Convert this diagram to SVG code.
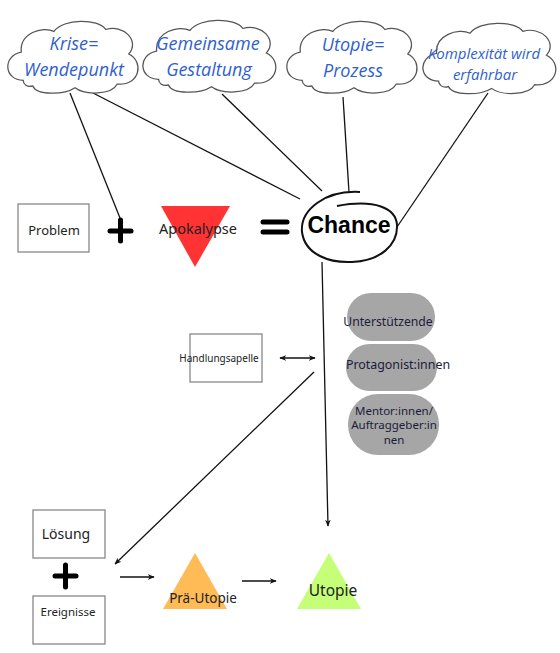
<svg xmlns="http://www.w3.org/2000/svg" width="560" height="653" viewBox="0 0 560 653">
<style>
.cloud{fill:#fff;stroke:#555;stroke-width:1.3}
.ct{font-family:"Open Sans",sans-serif;font-style:italic;fill:#2f5fcf;text-anchor:middle}
.box{fill:#fff;stroke:#888;stroke-width:1.3}
.t{font-family:"Noto Sans",sans-serif;fill:#222;text-anchor:middle}
.pill{fill:#a6a6a6}
.pt{font-family:"Noto Sans",sans-serif;fill:#1c1c3a;text-anchor:middle}
.ln{stroke:#111;stroke-width:1.3;fill:none}
.op{stroke:#000;stroke-width:5;stroke-linecap:round}
</style>
<defs>
<path id="cl" d="M20,62 C0,62 -2,36 18,32 C16,12 40,4 52,10 C62,-4 98,-4 106,8 C124,2 142,20 130,34 C146,42 142,68 118,66 C112,78 84,78 74,70 C62,78 34,78 30,68 C24,70 20,66 20,62 Z"/>
<marker id="ah" viewBox="0 0 10 10" refX="9" refY="5" markerWidth="7" markerHeight="7" orient="auto-start-reverse" markerUnits="userSpaceOnUse">
<path d="M0,1 L10,5 L0,9 L3,5 Z" fill="#111"/>
</marker>
</defs>
<rect width="560" height="653" fill="#fff"/>
<g id="connectors">
<line class="ln" x1="70" y1="93" x2="120" y2="218"/>
<line class="ln" x1="93" y1="93" x2="300" y2="199"/>
<line class="ln" x1="222" y1="94" x2="322" y2="191"/>
<line class="ln" x1="343" y1="97" x2="349" y2="192"/>
<line class="ln" x1="488" y1="93" x2="397" y2="227"/>
<line class="ln" x1="322" y1="262" x2="328" y2="526" marker-end="url(#ah)"/>
<line class="ln" x1="280" y1="358" x2="315" y2="358" marker-start="url(#ah)" marker-end="url(#ah)"/>
<line class="ln" x1="314" y1="372" x2="115" y2="564" marker-end="url(#ah)"/>
<line class="ln" x1="120" y1="577" x2="154" y2="577" marker-end="url(#ah)"/>
<line class="ln" x1="242" y1="581" x2="276" y2="581" marker-end="url(#ah)"/>
</g>
<g id="cloud1">
<use href="#cl" class="cloud" transform="translate(4,22) scale(0.96,0.94)"/>
<text class="ct" x="74" y="50" font-size="18">Krise=</text>
<text class="ct" x="74" y="76" font-size="18">Wendepunkt</text>
</g>
<g id="cloud2">
<use href="#cl" class="cloud" transform="translate(139,21) scale(0.98,0.94)"/>
<text class="ct" x="208" y="50" font-size="18">Gemeinsame</text>
<text class="ct" x="209" y="76" font-size="18">Gestaltung</text>
</g>
<g id="cloud3">
<use href="#cl" class="cloud" transform="translate(283,22) scale(0.96,0.94)"/>
<text class="ct" x="353" y="51" font-size="18">Utopie=</text>
<text class="ct" x="353" y="77" font-size="18">Prozess</text>
</g>
<g id="cloud4">
<use href="#cl" class="cloud" transform="translate(419,24) scale(0.98,0.92)"/>
<text class="ct" x="484" y="59" font-size="15">Komplexität wird</text>
<text class="ct" x="485" y="80" font-size="15">erfahrbar</text>
</g>
<g id="problem">
<rect class="box" x="18" y="204" width="71" height="48"/>
<text class="t" x="54" y="235" font-size="13">Problem</text>
</g>
<g id="plus1">
<line class="op" x1="110" y1="231" x2="131" y2="231"/>
<line class="op" x1="120.5" y1="220" x2="120.5" y2="241"/>
</g>
<g id="apokalypse">
<polygon points="161,206 230,206 195,267" fill="#ff3333"/>
<text class="t" x="198" y="234" font-size="14.5">Apokalypse</text>
</g>
<g id="equals">
<line class="op" x1="263" y1="222" x2="287" y2="222" stroke-width="4.5"/>
<line class="op" x1="263" y1="232" x2="287" y2="232" stroke-width="4.5"/>
</g>
<g id="chance">
<path d="M360,192 C325,190 300,210 302,232 C305,255 330,263 352,262 C380,261 398,245 397,225 C396,208 375,199 337,206" fill="none" stroke="#111" stroke-width="2"/>
<text x="349" y="233" font-family="'Liberation Sans',sans-serif" font-weight="bold" font-size="23" text-anchor="middle" fill="#000">Chance</text>
</g>
<g id="handlungsapelle">
<rect class="box" x="190" y="334" width="72" height="48"/>
<text class="t" x="219" y="362" font-size="10">Handlungsapelle</text>
</g>
<g id="unterstuetzende">
<rect class="pill" x="347" y="293" width="88" height="48" rx="24"/>
<text class="pt" x="388" y="326" font-size="12.2">Unterstützende</text>
</g>
<g id="protagonist">
<rect class="pill" x="346" y="344" width="91" height="47" rx="23.5"/>
<text class="pt" x="398" y="369" font-size="12.4">Protagonist:innen</text>
</g>
<g id="mentor">
<rect class="pill" x="348" y="394" width="91" height="61" rx="30"/>
<text class="pt" x="394" y="415" font-size="11.5">Mentor:innen/</text>
<text class="pt" x="394" y="429" font-size="11.5">Auftraggeber:in</text>
<text class="pt" x="394" y="444" font-size="11.5">nen</text>
</g>
<g id="loesung">
<rect class="box" x="33" y="510" width="72" height="48"/>
<text class="t" x="66" y="539" font-size="14">Lösung</text>
</g>
<g id="plus2">
<line class="op" x1="55" y1="576" x2="76" y2="576"/>
<line class="op" x1="65.5" y1="565" x2="65.5" y2="587"/>
</g>
<g id="ereignisse">
<rect class="box" x="33" y="596" width="72" height="48"/>
<text class="t" x="68" y="616" font-size="11.5">Ereignisse</text>
</g>
<g id="prae-utopie">
<polygon points="195,553 227,609 163,609" fill="#ffbb55"/>
<text class="t" x="203" y="603" font-size="13.5">Prä-Utopie</text>
</g>
<g id="utopie">
<polygon points="329,553 361,609 297,609" fill="#c4ff77"/>
<text class="t" x="333" y="596" font-size="15.5">Utopie</text>
</g>
</svg>
